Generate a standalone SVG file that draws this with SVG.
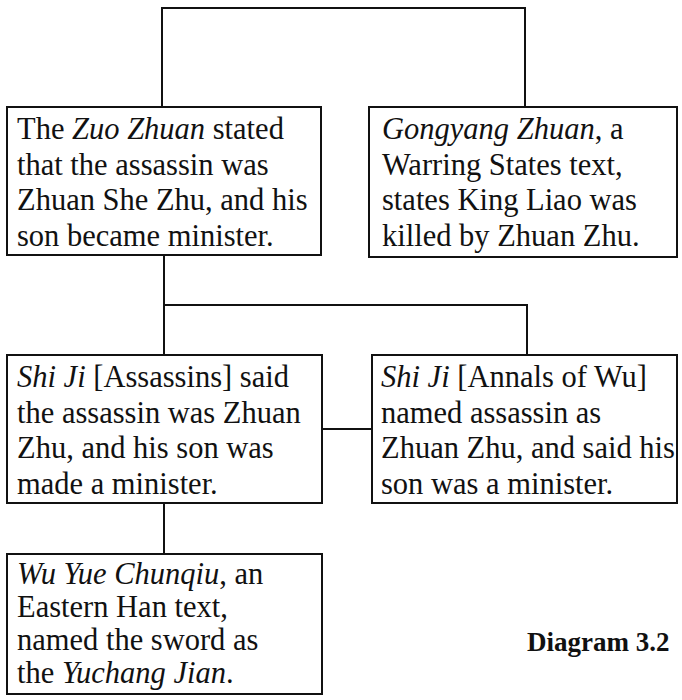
<svg xmlns="http://www.w3.org/2000/svg" width="682" height="700" viewBox="0 0 682 700">
  <style>
    .box { fill: #ffffff; stroke: #111111; stroke-width: 2; }
    .link { fill: none; stroke: #111111; stroke-width: 2; }
    .txt { font-size: 30.5px; fill: #111111; }
    .it { font-style: italic; }
    .title { font-size: 27px; font-weight: bold; fill: #111111; }
  </style>
  <rect width="682" height="700" fill="#ffffff"/>

  <!-- connectors -->
  <g id="connectors">
    <path class="link" d="M162,107 V8 H525 V107"/>
    <path class="link" d="M164,255 V355"/>
    <path class="link" d="M164,305 H527 V355"/>
    <path class="link" d="M322,429 H372"/>
    <path class="link" d="M164,503 V554"/>
  </g>

  <g font-family="'Liberation Serif', 'Times New Roman', 'DejaVu Serif', serif">
    <!-- Zuo Zhuan -->
    <g id="zuo-zhuan">
      <rect class="box" x="7" y="107" width="314" height="148"/>
      <text class="txt" x="17" y="139">The <tspan class="it">Zuo Zhuan</tspan> stated</text>
      <text class="txt" x="17" y="174.5">that the assassin was</text>
      <text class="txt" x="17" y="210">Zhuan She Zhu, and his</text>
      <text class="txt" x="17" y="245.5">son became minister.</text>
    </g>

    <!-- Gongyang Zhuan -->
    <g id="gongyang-zhuan">
      <rect class="box" x="369" y="107" width="308" height="150"/>
      <text class="txt" x="382" y="139"><tspan class="it">Gongyang Zhuan</tspan>, a</text>
      <text class="txt" x="382" y="174.5">Warring States text,</text>
      <text class="txt" x="382" y="210">states King Liao was</text>
      <text class="txt" x="382" y="245.5">killed by Zhuan Zhu.</text>
    </g>

    <!-- Shi Ji, Assassins -->
    <g id="shiji-assassins">
      <rect class="box" x="7" y="355" width="315" height="148"/>
      <text class="txt" x="17" y="387"><tspan class="it">Shi Ji</tspan> [Assassins] said</text>
      <text class="txt" x="17" y="422.5">the assassin was Zhuan</text>
      <text class="txt" x="17" y="458">Zhu, and his son was</text>
      <text class="txt" x="17" y="493.5">made a minister.</text>
    </g>

    <!-- Shi Ji, Annals of Wu -->
    <g id="shiji-annals-wu">
      <rect class="box" x="372" y="355" width="305" height="148"/>
      <text class="txt" x="381" y="387"><tspan class="it">Shi Ji</tspan> [Annals of Wu]</text>
      <text class="txt" x="381" y="422.5">named assassin as</text>
      <text class="txt" x="381" y="458">Zhuan Zhu, and said his</text>
      <text class="txt" x="381" y="493.5">son was a minister.</text>
    </g>

    <!-- Wu Yue Chunqiu -->
    <g id="wu-yue-chunqiu">
      <rect class="box" x="7" y="554" width="315" height="140"/>
      <text class="txt" x="17" y="584">
        <tspan class="it">Wu Yue Chunqiu</tspan>, an</text>
      <text class="txt" x="17" y="617">Eastern Han text,</text>
      <text class="txt" x="17" y="650">named the sword as</text>
      <text class="txt" x="17" y="683">the <tspan class="it">Yuchang Jian</tspan>.</text>
    </g>

    <!-- caption -->
    <g id="caption">
      <text class="title" x="527" y="651">Diagram 3.2</text>
    </g>
  </g>
</svg>
